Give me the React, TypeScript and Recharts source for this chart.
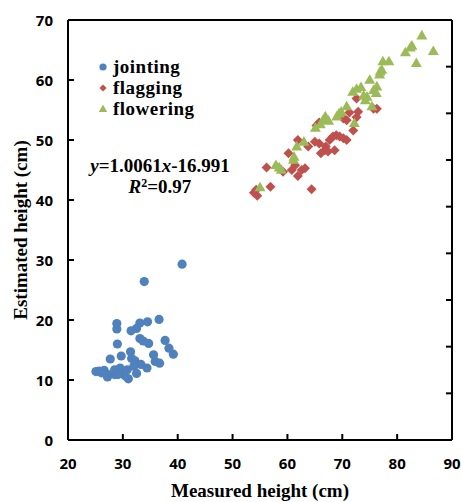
import React from 'react';
import { ScatterChart, Scatter, XAxis, YAxis, ReferenceLine } from 'recharts';

interface Pt {
  x: number;
  y: number;
}

// measured vs estimated height
const jointing: Pt[] = [
  { x: 40.8, y: 29.3 }, { x: 33.9, y: 26.4 }, { x: 36.6, y: 20.1 }, { x: 34.5, y: 19.7 },
  { x: 33.1, y: 19.5 }, { x: 28.9, y: 19.4 }, { x: 28.9, y: 18.5 }, { x: 31.5, y: 18.2 },
  { x: 32.5, y: 18.6 }, { x: 37.7, y: 16.6 }, { x: 33.1, y: 16.9 }, { x: 33.7, y: 16.5 },
  { x: 34.7, y: 16.1 }, { x: 29.0, y: 16.0 }, { x: 38.4, y: 15.3 }, { x: 39.2, y: 14.3 },
  { x: 35.6, y: 14.2 }, { x: 31.4, y: 14.7 }, { x: 29.7, y: 14.0 }, { x: 31.6, y: 13.6 },
  { x: 27.7, y: 13.5 }, { x: 32.2, y: 13.2 }, { x: 35.9, y: 13.1 }, { x: 36.7, y: 12.8 },
  { x: 33.3, y: 12.6 }, { x: 34.4, y: 12.0 }, { x: 32.0, y: 12.3 }, { x: 30.8, y: 11.7 },
  { x: 29.5, y: 12.0 }, { x: 28.5, y: 11.7 }, { x: 26.6, y: 11.6 }, { x: 25.7, y: 11.5 },
  { x: 25.1, y: 11.4 }, { x: 32.5, y: 11.1 }, { x: 27.3, y: 10.9 }, { x: 28.5, y: 10.9 },
  { x: 30.0, y: 11.1 }, { x: 27.2, y: 10.5 }, { x: 31.0, y: 10.2 }, { x: 30.4, y: 10.7 },
  { x: 29.1, y: 10.9 }, { x: 26.1, y: 11.2 },
];

const flagging: Pt[] = [
  { x: 54.3, y: 41.7 }, { x: 54.5, y: 40.7 }, { x: 53.9, y: 41.2 }, { x: 56.2, y: 45.4 },
  { x: 56.9, y: 42.2 }, { x: 64.4, y: 41.8 }, { x: 60.2, y: 47.8 }, { x: 59.2, y: 44.7 },
  { x: 60.8, y: 45.0 }, { x: 61.9, y: 50.0 }, { x: 61.9, y: 44.0 }, { x: 62.6, y: 45.0 },
  { x: 63.2, y: 45.3 }, { x: 61.4, y: 45.8 }, { x: 63.8, y: 48.9 }, { x: 65.8, y: 49.4 },
  { x: 66.1, y: 47.8 }, { x: 66.8, y: 48.3 }, { x: 67.4, y: 48.1 }, { x: 67.7, y: 50.0 },
  { x: 68.3, y: 50.6 }, { x: 68.9, y: 50.8 }, { x: 69.5, y: 50.6 }, { x: 70.2, y: 50.3 },
  { x: 70.8, y: 50.0 }, { x: 70.8, y: 53.3 }, { x: 70.2, y: 53.6 }, { x: 71.3, y: 54.6 },
  { x: 72.0, y: 51.6 }, { x: 72.6, y: 53.8 }, { x: 72.9, y: 54.7 }, { x: 72.6, y: 56.9 },
  { x: 75.7, y: 55.2 }, { x: 76.3, y: 55.2 }, { x: 65.8, y: 52.9 }, { x: 65.0, y: 49.7 },
  { x: 68.6, y: 48.3 }, { x: 67.0, y: 48.9 }, { x: 65.3, y: 52.4 },
];

const flowering: Pt[] = [
  { x: 55.0, y: 42.1 }, { x: 57.9, y: 45.8 }, { x: 58.9, y: 45.0 }, { x: 58.5, y: 45.4 },
  { x: 61.1, y: 46.7 }, { x: 61.2, y: 47.2 }, { x: 61.7, y: 48.9 }, { x: 63.0, y: 49.7 },
  { x: 65.1, y: 52.0 }, { x: 66.0, y: 52.6 }, { x: 66.5, y: 53.3 }, { x: 66.9, y: 53.9 },
  { x: 67.5, y: 53.2 }, { x: 69.0, y: 53.9 }, { x: 69.4, y: 54.4 }, { x: 69.8, y: 54.7 },
  { x: 70.8, y: 55.6 }, { x: 71.9, y: 58.0 }, { x: 72.2, y: 52.8 }, { x: 72.6, y: 58.5 },
  { x: 73.4, y: 58.8 }, { x: 73.9, y: 57.4 }, { x: 74.2, y: 56.6 }, { x: 74.5, y: 57.2 },
  { x: 75.0, y: 60.0 }, { x: 75.4, y: 55.6 }, { x: 75.7, y: 58.3 }, { x: 76.3, y: 58.9 },
  { x: 76.2, y: 57.8 }, { x: 76.8, y: 60.9 }, { x: 77.2, y: 61.7 }, { x: 77.4, y: 63.1 },
  { x: 78.5, y: 63.1 }, { x: 81.5, y: 64.6 }, { x: 82.4, y: 65.4 }, { x: 83.5, y: 62.8 },
  { x: 84.5, y: 67.4 }, { x: 86.6, y: 64.8 }, { x: 82.7, y: 65.7 }, { x: 76.9, y: 61.4 },
];

const xTicks = [20, 30, 40, 50, 60, 70, 80, 90];
const yTicks = [0, 10, 20, 30, 40, 50, 60, 70];
// top and right frame carry 9 divisions, no labels
const frameTicks = [1, 2, 3, 4, 5, 6, 7, 8];

const BLUE = '#4F81BD';
const RED = '#C0504D';
const GREEN = '#9BBB59';

const serif = '"Liberation Serif", "Times New Roman", serif';
const sans = '"Open Sans", "Liberation Sans", sans-serif';

const axisStroke = { stroke: '#000', strokeWidth: 2 };
const tickFont = { fill: '#000', fontSize: 15, fontWeight: 'bold' as const, fontFamily: sans };
const TICK = 6;

// each tick draws its own inward mark (tickSize 0, default tickMargin 2)
const XTick = ({ x, y, payload }: any) => (
  <g>
    <line x1={x} y1={y - 2} x2={x} y2={y - 2 - TICK} {...axisStroke} />
    <text x={x} y={y + 26.5} textAnchor="middle" {...tickFont}>
      {payload.value}
    </text>
  </g>
);

const YTick = ({ x, y, payload }: any) => (
  <g>
    <line x1={x + 2} y1={y} x2={x + 2 + TICK} y2={y} {...axisStroke} />
    <text x={x - 13} y={y + 5.5} textAnchor="end" {...tickFont}>
      {payload.value}
    </text>
  </g>
);

const TopTick = ({ x, y }: any) => <line x1={x} y1={y + 2} x2={x} y2={y + 2 + TICK} {...axisStroke} />;
const RightTick = ({ x, y }: any) => <line x1={x - 2} y1={y} x2={x - 2 - TICK} y2={y} {...axisStroke} />;

const marker = (kind: string, cx: number, cy: number, s: number, color: string) => {
  if (kind === 'circle') return <circle cx={cx} cy={cy} r={s} fill={color} />;
  if (kind === 'diamond') {
    return <path d={`M${cx},${cy - s}L${cx + s},${cy}L${cx},${cy + s}L${cx - s},${cy}Z`} fill={color} />;
  }
  const h = s * 1.75;
  return (
    <path
      d={`M${cx},${cy - h * 0.6}L${cx + s},${cy + h * 0.4}L${cx - s},${cy + h * 0.4}Z`}
      fill={color}
    />
  );
};

const series = [
  { name: 'jointing', data: jointing, kind: 'circle', color: BLUE, size: 4.6 },
  { name: 'flagging', data: flagging, kind: 'diamond', color: RED, size: 5 },
  { name: 'flowering', data: flowering, kind: 'triangle', color: GREEN, size: 5.5 },
];

export default function App() {
  return (
    <div style={{ position: 'absolute', left: 0, top: 0, width: 461, height: 502 }}>
      <ScatterChart width={461} height={502} margin={{ top: 0, right: 0, bottom: 0, left: 0 }}>
        <XAxis
          dataKey="x"
          type="number"
          domain={[20, 90]}
          ticks={xTicks}
          height={62}
          axisLine={axisStroke}
          tickLine={false}
          tickSize={0}
          tick={XTick}
          label={{
            value: 'Measured height (cm)',
            position: 'insideBottom',
            offset: 5,
            style: { fill: '#000', fontSize: 19, fontWeight: 'bold', fontFamily: serif },
          }}
        />
        <YAxis
          dataKey="y"
          type="number"
          domain={[0, 70]}
          ticks={yTicks}
          width={68}
          axisLine={axisStroke}
          tickLine={false}
          tickSize={0}
          tick={YTick}
          label={{
            value: 'Estimated height (cm)',
            angle: -90,
            position: 'insideLeft',
            offset: 20,
            style: { fill: '#000', fontSize: 19, fontWeight: 'bold', fontFamily: serif, textAnchor: 'middle' },
          }}
        />
        <XAxis
          xAxisId="top"
          orientation="top"
          type="number"
          domain={[0, 9]}
          ticks={frameTicks}
          allowDataOverflow
          height={20}
          axisLine={axisStroke}
          tickLine={false}
          tickSize={0}
          tick={TopTick}
        />
        <YAxis
          yAxisId="right"
          orientation="right"
          type="number"
          domain={[0, 9]}
          ticks={frameTicks}
          allowDataOverflow
          width={9}
          axisLine={axisStroke}
          tickLine={false}
          tickSize={0}
          tick={RightTick}
        />
        <ReferenceLine x={20} stroke="#000" strokeWidth={2} />
        <ReferenceLine x={90} stroke="#000" strokeWidth={2} />
        <ReferenceLine y={0} stroke="#000" strokeWidth={2} />
        <ReferenceLine y={70} stroke="#000" strokeWidth={2} />
        {series.map((s) => (
          <Scatter
            key={s.name}
            name={s.name}
            data={s.data}
            isAnimationActive={false}
            shape={(p: any) => marker(s.kind, p.cx, p.cy, s.size, s.color)}
          />
        ))}
      </ScatterChart>
      <div
        style={{
          position: 'absolute',
          left: 98,
          top: 56,
          fontFamily: serif,
          fontWeight: 'bold',
          fontSize: 19,
          lineHeight: '21px',
          color: '#000',
        }}
      >
        {series.map((s) => (
          <div key={s.name} style={{ display: 'flex', alignItems: 'center', height: 21 }}>
            <svg width={10} height={10} style={{ overflow: 'visible' }}>
              {marker(s.kind, 5, 5, s.kind === 'triangle' ? 4.2 : 3.6, s.color)}
            </svg>
            <span style={{ marginLeft: 5, letterSpacing: 0.5 }}>{s.name}</span>
          </div>
        ))}
      </div>
      <div
        style={{
          position: 'absolute',
          left: 60,
          top: 155,
          width: 200,
          textAlign: 'center',
          fontFamily: serif,
          fontWeight: 'bold',
          fontSize: 19,
          lineHeight: '21px',
          color: '#000',
        }}
      >
        <div>
          <i>y</i>=1.0061<i>x</i>-16.991
        </div>
        <div>
          <i>R</i>
          <span style={{ fontSize: 12, verticalAlign: 6, lineHeight: 0 }}>2</span>=0.97
        </div>
      </div>
    </div>
  );
}
